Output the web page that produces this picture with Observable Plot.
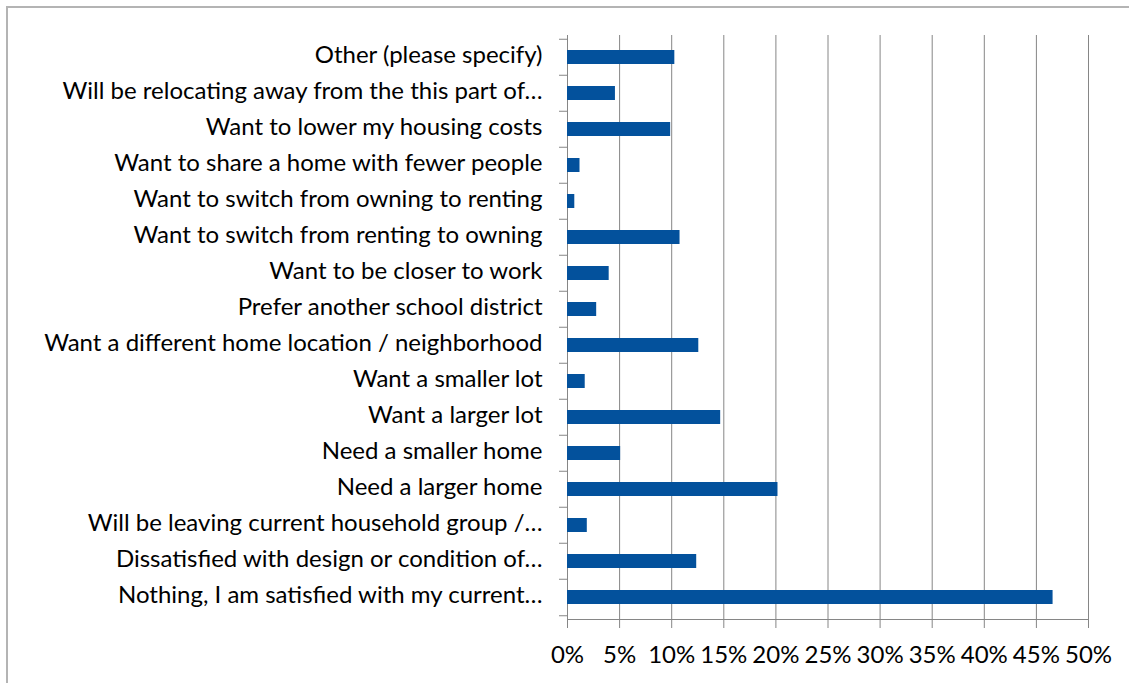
<!DOCTYPE html>
<html><head><meta charset="utf-8">
<script src="https://cdn.jsdelivr.net/npm/d3@7"></script>
<script src="https://cdn.jsdelivr.net/npm/@observablehq/plot@0.6"></script>
<style>
body{margin:0;background:#fff;}
#chart{position:absolute;left:0;top:0;}
#border{position:absolute;left:6px;top:6px;width:1140px;height:700px;border-left:2px solid #b4b4b4;border-top:2px solid #b4b4b4;pointer-events:none;}
</style>
</head><body>
<div id="chart"></div><div id="border"></div>
<script>
const categories = [
  "Other (please specify)",
  "Will be relocating away from the this part of…",
  "Want to lower my housing costs",
  "Want to share a home with fewer people",
  "Want to switch from owning to renting",
  "Want to switch from renting to owning",
  "Want to be closer to work",
  "Prefer another school district",
  "Want a different home location / neighborhood",
  "Want a smaller lot",
  "Want a larger lot",
  "Need a smaller home",
  "Need a larger home",
  "Will be leaving current household group /…",
  "Dissatisfied with design or condition of…",
  "Nothing, I am satisfied with my current…"
];
const values = [10.3, 4.6, 9.9, 1.2, 0.7, 10.8, 4.0, 2.8, 12.6, 1.7, 14.7, 5.1, 20.2, 1.9, 12.4, 46.6];
const xTicks = [0, 5, 10, 15, 20, 25, 30, 35, 40, 45, 50];

const data = categories.map((c, i) => ({category: c, value: values[i]}));
const W = 1129, H = 683, mt = 35, mb = 64, ml = 567, mr = 41;
const step = (H - mt - mb) / categories.length;
const grid = "#868686";

const plot = Plot.plot({
  width: W, height: H,
  marginTop: mt, marginBottom: mb, marginLeft: ml, marginRight: mr,
  style: {fontFamily: "Lato", fontSize: "24px", color: "#000", background: "white", overflow: "visible"},
  x: {domain: [0, 50], label: null},
  y: {domain: categories, paddingInner: 0.6, paddingOuter: 0.3, label: null},
  marks: [
    Plot.ruleX(xTicks, {stroke: grid, strokeWidth: 1}),
    Plot.barX(data, {x: "value", y: "category", fill: "#03519C"}),
    Plot.frame({anchor: "bottom", stroke: grid}),
    Plot.axisX({ticks: xTicks, tickSize: 9, tickPadding: 17, tickFormat: d => d + "%", stroke: grid, label: null}),
    Plot.axisY({tickSize: 0, tickPadding: 25, label: null, dy: -2, style: {letterSpacing: "0.3px"}}),
    Plot.axisY({tickSize: 8, tickFormat: () => "", dy: -step / 2, stroke: grid, label: null}),
    Plot.axisY({ticks: [categories[categories.length - 1]], tickSize: 8, tickFormat: () => "", dy: step / 2, stroke: grid, label: null})
  ]
});
document.getElementById("chart").appendChild(plot);
</script>
</body></html>
